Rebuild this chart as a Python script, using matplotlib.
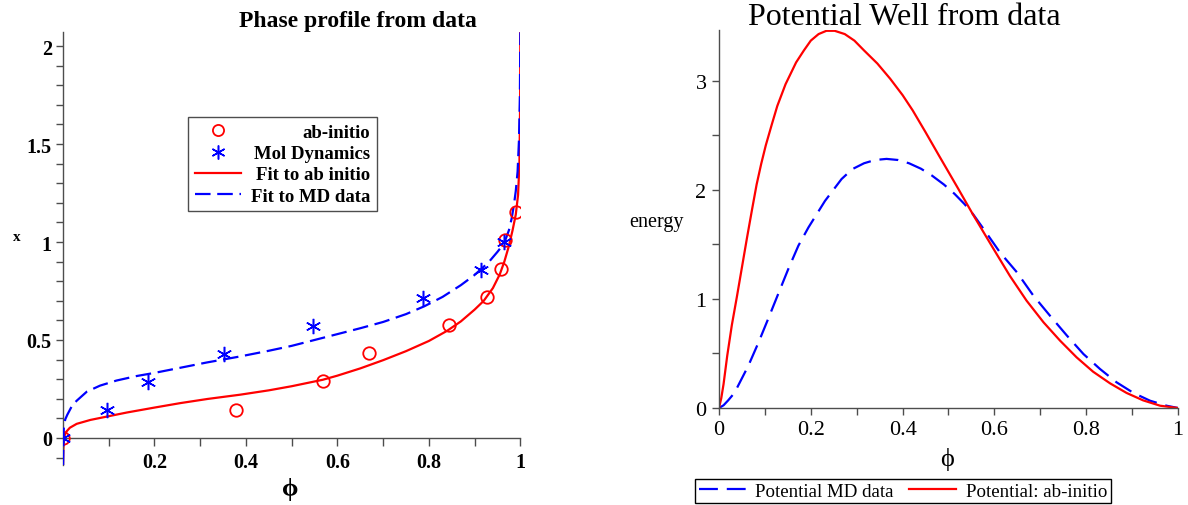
import numpy as np
import matplotlib
matplotlib.use("Agg")
import matplotlib.pyplot as plt
import matplotlib.transforms as mtransforms
from matplotlib.ticker import FixedLocator, MultipleLocator, FuncFormatter
from matplotlib.lines import Line2D

plt.rcParams['font.family'] = ['Liberation Serif', 'DejaVu Serif']

# --- phase profile: measured points ---
phi_ab = [0.0, 0.379, 0.568, 0.669, 0.843, 0.928, 0.957, 0.967, 0.990]
x_ab = [0.0, 0.145, 0.291, 0.432, 0.576, 0.721, 0.863, 1.009, 1.154]
phi_md = [0.0, 0.097, 0.185, 0.353, 0.546, 0.788, 0.914, 0.965]
x_md = [0.0, 0.142, 0.285, 0.427, 0.569, 0.715, 0.858, 1.0]

# --- phase profile: fitted curves ---
phi_fit_ab = [0.0001, 0.0008, 0.002, 0.004, 0.0066, 0.015, 0.03, 0.06, 0.1, 0.14,
              0.2, 0.257, 0.316, 0.388, 0.45, 0.5, 0.568, 0.6, 0.65, 0.7, 0.75,
              0.8, 0.84, 0.87, 0.9, 0.92, 0.94, 0.955, 0.965, 0.975, 0.983, 0.99,
              0.995, 0.998, 0.9995, 1.0]
x_fit_ab = [-0.14, -0.06, -0.01, 0.015, 0.03, 0.052, 0.072, 0.092, 0.111, 0.13,
            0.155, 0.178, 0.199, 0.221, 0.243, 0.264, 0.297, 0.318, 0.355, 0.397, 0.443,
            0.495, 0.547, 0.595, 0.655, 0.70, 0.765, 0.835, 0.90, 0.98, 1.06, 1.14,
            1.24, 1.40, 1.70, 2.07]
phi_fit_md = [0.0003, 0.001, 0.002, 0.005, 0.0094, 0.02, 0.03, 0.052, 0.081, 0.117,
              0.161, 0.2, 0.256, 0.314, 0.385, 0.45, 0.5, 0.55, 0.6, 0.65, 0.7,
              0.75, 0.79, 0.83, 0.87, 0.9, 0.93, 0.95, 0.96, 0.968, 0.975, 0.981,
              0.986, 0.99, 0.994, 0.997, 0.999, 1.0]
x_fit_md = [-0.14, 0.0, 0.06, 0.095, 0.118, 0.165, 0.19, 0.236, 0.267, 0.293,
            0.316, 0.332, 0.358, 0.385, 0.415, 0.445, 0.47, 0.5, 0.53, 0.56, 0.592,
            0.632, 0.672, 0.72, 0.78, 0.832, 0.895, 0.95, 0.98, 1.015, 1.06, 1.12,
            1.19, 1.26, 1.36, 1.52, 1.75, 2.07]

# --- potential well ---
phi_pot_ab = [0.0, 0.005, 0.01, 0.018, 0.028, 0.039, 0.05, 0.061, 0.072, 0.082, 0.092,
              0.102, 0.115, 0.127, 0.145, 0.168, 0.185, 0.2, 0.217, 0.234, 0.252,
              0.274, 0.295, 0.316, 0.345, 0.373, 0.4, 0.422, 0.45, 0.48, 0.52, 0.554,
              0.598, 0.634, 0.67, 0.707, 0.743, 0.779, 0.815, 0.852, 0.888, 0.924,
              0.961, 1.0]
e_pot_ab = [0.0, 0.09, 0.22, 0.48, 0.76, 1.02, 1.29, 1.56, 1.82, 2.05, 2.24,
            2.41, 2.6, 2.77, 2.97, 3.17, 3.28, 3.37, 3.43, 3.46, 3.46,
            3.43, 3.37, 3.28, 3.16, 3.02, 2.87, 2.73, 2.53, 2.31, 2.02, 1.77,
            1.46, 1.21, 0.985, 0.786, 0.618, 0.465, 0.333, 0.226, 0.138, 0.07,
            0.021, 0.0]
phi_pot_md = [0.0, 0.01, 0.02, 0.03, 0.038, 0.064, 0.086, 0.107, 0.129, 0.151, 0.173,
              0.195, 0.231, 0.267, 0.29, 0.316, 0.34, 0.365, 0.39, 0.414, 0.44,
              0.463, 0.49, 0.513, 0.535, 0.554, 0.576, 0.612, 0.649, 0.685, 0.721,
              0.758, 0.794, 0.83, 0.866, 0.903, 0.939, 0.975, 1.0]
e_pot_md = [0.0, 0.025, 0.07, 0.12, 0.174, 0.388, 0.6, 0.816, 1.046, 1.275, 1.489,
            1.657, 1.9, 2.1, 2.19, 2.245, 2.275, 2.285, 2.275, 2.245, 2.195,
            2.135, 2.05, 1.965, 1.87, 1.775, 1.645, 1.428, 1.245, 1.03, 0.847,
            0.664, 0.495, 0.358, 0.236, 0.138, 0.067, 0.021, 0.0]

RED = '#ff0000'
BLUE = '#0000ff'
AXC = '0.3'


def num_fmt(v, pos):
    return ('%g' % round(v, 3))


fig = plt.figure(figsize=(11.88, 5.06), dpi=100)

# ---------------- left: phase profile ----------------
ax1 = fig.add_axes([0.053, 0.0783, 0.385, 0.8557])
ax1.plot(phi_fit_ab, x_fit_ab, color=RED, lw=1.6, zorder=2)
ax1.plot(phi_fit_md, x_fit_md, color=BLUE, lw=1.6, dashes=(7, 3), zorder=3)
ax1.plot(phi_ab, x_ab, 'o', mfc='none', mec=RED, ms=9, mew=1.3, zorder=4)
ax1.plot(phi_md, x_md, ls='none', marker=(6, 2, 0), color=BLUE, ms=11, mew=1.1, zorder=4)
ax1.set_xlim(0, 1)
ax1.set_ylim(-0.14, 2.07)

for s in ['top', 'right']:
    ax1.spines[s].set_visible(False)
ax1.spines['bottom'].set_position(('data', 0))
ax1.spines['left'].set_position(('data', 0))
for s in ['bottom', 'left']:
    ax1.spines[s].set_color(AXC)
    ax1.spines[s].set_linewidth(1.0)

ax1.xaxis.set_major_locator(FixedLocator([0.2, 0.4, 0.6, 0.8, 1.0]))
ax1.xaxis.set_minor_locator(FixedLocator([0.1, 0.3, 0.5, 0.7, 0.9]))
ax1.yaxis.set_major_locator(FixedLocator([0, 0.5, 1, 1.5, 2]))
ax1.yaxis.set_minor_locator(MultipleLocator(0.1))
ax1.xaxis.set_major_formatter(FuncFormatter(num_fmt))
ax1.yaxis.set_major_formatter(FuncFormatter(num_fmt))
ax1.tick_params(axis='both', which='both', direction='out', color=AXC, width=1.0)
ax1.tick_params(axis='x', which='both', length=6, pad=4)
ax1.tick_params(axis='y', which='both', length=5, pad=3)
ax1.tick_params(labelsize=14.5)
for lab in ax1.get_xticklabels() + ax1.get_yticklabels():
    lab.set_fontweight('bold')

leg_handles = [
    Line2D([], [], ls='none', marker='o', mfc='none', mec=RED, ms=8, mew=1.3),
    Line2D([], [], ls='none', marker=(6, 2, 0), color=BLUE, ms=10, mew=1.1),
    Line2D([], [], color=RED, lw=1.6),
    Line2D([], [], color=BLUE, lw=1.6, dashes=(7, 3)),
]
leg_labels = ['ab-initio', 'Mol Dynamics', 'Fit to ab initio', 'Fit to MD data']
leg1 = ax1.legend(leg_handles, leg_labels, loc='upper left',
                  bbox_to_anchor=(0.2735, 0.804), frameon=True, fancybox=False,
                  edgecolor=AXC, framealpha=1, borderpad=0.35, labelspacing=0.22,
                  handlelength=2.5, handletextpad=0.5, borderaxespad=0,
                  prop={'size': 13.5, 'weight': 'bold'})
leg1.get_frame().set_linewidth(1.0)

fig.text(0.301, 0.958, 'Phase profile from data', ha='center', va='center',
         fontsize=17, fontweight='bold')
fig.text(0.011, 0.530, 'x', ha='left', va='center', fontsize=11, fontweight='bold')
fig.text(0.244, 0.032, 'ϕ', ha='center', va='center', fontsize=19, fontweight='bold')

# ---------------- right: potential well ----------------
ax2 = fig.add_axes([0.6052, 0.1917, 0.3864, 0.7476])
ax2.plot(phi_pot_md, e_pot_md, color=BLUE, lw=1.6, dashes=(8.5, 4),
         label='Potential MD data')
ax2.plot(phi_pot_ab, e_pot_ab, color=RED, lw=1.6, label='Potential: ab-initio')
ax2.set_xlim(0, 1)
ax2.set_ylim(0, 3.47)
for s in ['top', 'right']:
    ax2.spines[s].set_visible(False)
for s in ['bottom', 'left']:
    ax2.spines[s].set_color(AXC)
    ax2.spines[s].set_linewidth(1.0)
ax2.xaxis.set_major_locator(FixedLocator([0, 0.2, 0.4, 0.6, 0.8, 1.0]))
ax2.xaxis.set_minor_locator(FixedLocator([0.1, 0.3, 0.5, 0.7, 0.9]))
ax2.yaxis.set_major_locator(FixedLocator([0, 1, 2, 3]))
ax2.yaxis.set_minor_locator(FixedLocator([0.5, 1.5, 2.5]))
ax2.xaxis.set_major_formatter(FuncFormatter(num_fmt))
ax2.yaxis.set_major_formatter(FuncFormatter(num_fmt))
ax2.tick_params(axis='both', which='both', direction='out', color=AXC, width=1.0,
                length=5, pad=4, labelsize=16)

fig.text(0.761, 0.966, 'Potential Well from data', ha='center', va='center', fontsize=23)
fig.text(0.553, 0.561, 'energy', ha='center', va='center', fontsize=14.5)
fig.text(0.797, 0.091, 'ϕ', ha='center', va='center', fontsize=19)

leg2 = fig.legend(*ax2.get_legend_handles_labels(), loc='center',
                  bbox_to_anchor=(0.760, 0.0277), ncol=2, frameon=True, fancybox=False,
                  edgecolor='black', framealpha=1, borderpad=0.2, columnspacing=0.8,
                  handlelength=2.5, handletextpad=0.5, fontsize=13.6)
leg2.get_frame().set_linewidth(1.0)

# right-justify the labels of the left legend
fig.canvas.draw()
renderer = fig.canvas.get_renderer()
rights = [t.get_window_extent(renderer).x1 for t in leg1.get_texts()]
for t, r in zip(leg1.get_texts(), rights):
    shift = mtransforms.Affine2D().translate(max(rights) - r, 0)
    t.set_transform(t.get_transform() + shift)

fig.savefig('out.png', dpi=100)
